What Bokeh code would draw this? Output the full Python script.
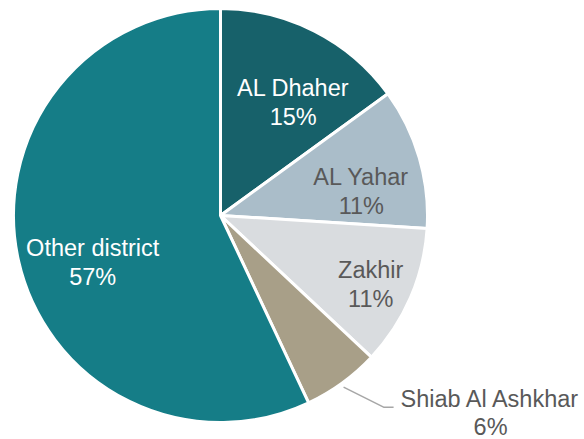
import math
from bokeh.plotting import figure
from bokeh.models import Range1d, ColumnDataSource
from bokeh.core.properties import value
from bokeh.embed import file_html
from bokeh.resources import INLINE

categories = ["AL Dhaher", "AL Yahar", "Zakhir", "Shiab Al Ashkhar", "Other district"]
shares = [15, 11, 11, 6, 57]
colors = ["#17616a", "#aabdc9", "#d9dcdf", "#a89f88", "#157d87"]
label_colors = ["#ffffff", "#595959", "#595959", "#595959", "#ffffff"]

W, H = 584, 439
cx, cy, R = 220, 224, 207  # pie centre (plot coords, y up) and radius

p = figure(width=W, height=H, output_backend="svg", toolbar_location=None,
           x_range=Range1d(0, W), y_range=Range1d(0, H), min_border=0)
p.axis.visible = False
p.grid.visible = False
p.outline_line_color = None
p.background_fill_color = "white"
p.border_fill_color = "white"

total = sum(shares)
starts, ends, mids = [], [], []
cum = 0
for s in shares:
    a0 = math.pi / 2 - 2 * math.pi * cum / total
    cum += s
    a1 = math.pi / 2 - 2 * math.pi * cum / total
    starts.append(a0)
    ends.append(a1)
    mids.append((a0 + a1) / 2)

src = ColumnDataSource(dict(start=starts, end=ends, color=colors, cat=categories))
p.wedge(x=cx, y=cy, radius=R, start_angle="start", end_angle="end", direction="clock",
        fill_color="color", line_color="white", line_width=3, source=src)

# label placement: (radius, angle in degrees) relative to pie centre
placement = [(135, 57.4), (143, 10.0), (165, -24.4), None, (136, -160.0)]
lx, ly, txt, tcol = [], [], [], []
for i, c in enumerate(categories):
    if placement[i] is None:
        continue
    r, a = placement[i]
    x = cx + r * math.cos(math.radians(a))
    y = cy + r * math.sin(math.radians(a))
    lx += [x, x]
    ly += [y + 14, y - 15]
    txt += [c, f"{shares[i]}%"]
    tcol += [label_colors[i], label_colors[i]]

# Shiab Al Ashkhar: outside label with leader line
i = 3
m = mids[i]
x0 = cx + (R - 1) * math.cos(m) + 2
y0 = cy + (R - 1) * math.sin(m) - 5
x1 = x0 + 40
y1 = y0 - 20
p.line([x0, x1, x1 + 10], [y0, y1, y1], line_color="#a6a6a6", line_width=1.5)
lx += [x1 + 107, x1 + 107]
ly += [y1 + 8, y1 - 20]
txt += [categories[i], f"{shares[i]}%"]
tcol += [label_colors[i], label_colors[i]]

tsrc = ColumnDataSource(dict(x=lx, y=ly, t=txt, c=tcol))
p.text(x="x", y="y", text="t", text_color="c", source=tsrc,
       text_font=value("Liberation Sans"), text_font_size="23.5px",
       text_align="center", text_baseline="middle")

open("out.html", "w").write(file_html(p, INLINE))
